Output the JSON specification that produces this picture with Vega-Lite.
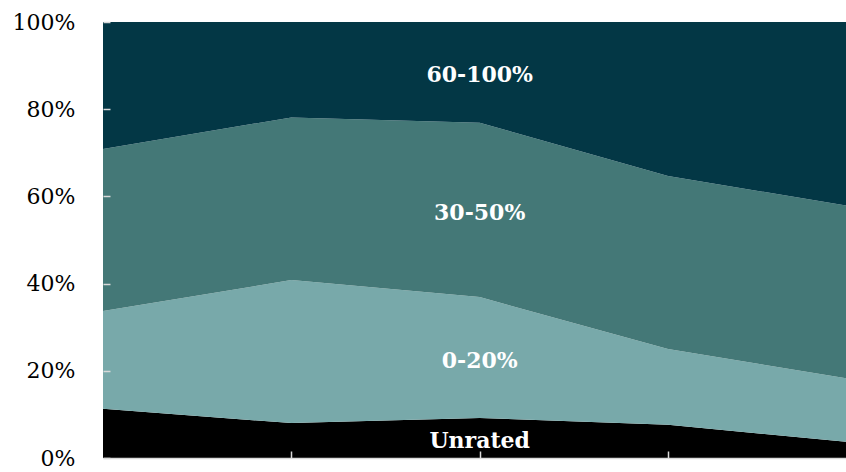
{
  "$schema": "https://vega.github.io/schema/vega-lite/v6.json",
  "width": 743,
  "height": 436,
  "autosize": {"type": "none"},
  "padding": {"left": 103, "top": 22, "right": 0, "bottom": 14},
  "background": "white",
  "config": {"view": {"stroke": null}, "font": "DejaVu Serif"},
  "data": {
    "values": [
      {"period": 1, "band": "Unrated", "rank": 1, "share": 11.3},
      {"period": 1, "band": "0-20%", "rank": 2, "share": 22.4},
      {"period": 1, "band": "30-50%", "rank": 3, "share": 37.2},
      {"period": 1, "band": "60-100%", "rank": 4, "share": 29.1},
      {"period": 2, "band": "Unrated", "rank": 1, "share": 8.0},
      {"period": 2, "band": "0-20%", "rank": 2, "share": 32.8},
      {"period": 2, "band": "30-50%", "rank": 3, "share": 37.3},
      {"period": 2, "band": "60-100%", "rank": 4, "share": 21.9},
      {"period": 3, "band": "Unrated", "rank": 1, "share": 9.2},
      {"period": 3, "band": "0-20%", "rank": 2, "share": 27.7},
      {"period": 3, "band": "30-50%", "rank": 3, "share": 40.0},
      {"period": 3, "band": "60-100%", "rank": 4, "share": 23.1},
      {"period": 4, "band": "Unrated", "rank": 1, "share": 7.6},
      {"period": 4, "band": "0-20%", "rank": 2, "share": 17.4},
      {"period": 4, "band": "30-50%", "rank": 3, "share": 39.7},
      {"period": 4, "band": "60-100%", "rank": 4, "share": 35.3},
      {"period": 5, "band": "Unrated", "rank": 1, "share": 3.5},
      {"period": 5, "band": "0-20%", "rank": 2, "share": 14.4},
      {"period": 5, "band": "30-50%", "rank": 3, "share": 39.6},
      {"period": 5, "band": "60-100%", "rank": 4, "share": 42.5}
    ]
  },
  "layer": [
    {
      "mark": {"type": "area", "interpolate": "linear", "clip": true},
      "encoding": {
        "x": {
          "field": "period",
          "type": "quantitative",
          "scale": {"domain": [1, 4.945], "nice": false, "zero": false},
          "axis": {
            "values": [2, 3, 4],
            "labels": false,
            "tickSize": -7,
            "tickColor": "#d9d9d9",
            "tickWidth": 1.5,
            "domainColor": "#d9d9d9",
            "domainWidth": 1.5,
            "grid": false,
            "title": null,
            "zindex": 1
          }
        },
        "y": {
          "field": "share",
          "type": "quantitative",
          "stack": "zero",
          "scale": {"domain": [0, 100], "nice": false},
          "axis": {
            "values": [0, 20, 40, 60, 80, 100],
            "labelExpr": "datum.value + '%'",
            "tickSize": -7,
            "tickColor": "#d9d9d9",
            "tickWidth": 1.5,
            "domain": false,
            "grid": false,
            "title": null,
            "labelFont": "DejaVu Serif",
            "labelFontSize": 22,
            "labelColor": "#000000",
            "labelPadding": 35,
            "zindex": 1
          }
        },
        "color": {
          "field": "band",
          "type": "nominal",
          "scale": {
            "domain": ["Unrated", "0-20%", "30-50%", "60-100%"],
            "range": ["#000000", "#78a9aa", "#447877", "#033745"]
          },
          "legend": null
        },
        "order": {"field": "rank", "type": "quantitative"}
      }
    },
    {
      "transform": [
        {"filter": "datum.period == 3"},
        {"stack": "share", "groupby": ["period"], "sort": [{"field": "rank", "order": "ascending"}], "as": ["lo", "hi"]},
        {"calculate": "(datum.lo + datum.hi) / 2", "as": "mid"}
      ],
      "mark": {"type": "text", "font": "DejaVu Serif", "fontWeight": "bold", "fontSize": 22, "color": "white", "dy": 3, "baseline": "middle", "align": "center"},
      "encoding": {
        "x": {"field": "period", "type": "quantitative"},
        "y": {"field": "mid", "type": "quantitative"},
        "text": {"field": "band"}
      }
    }
  ]
}
